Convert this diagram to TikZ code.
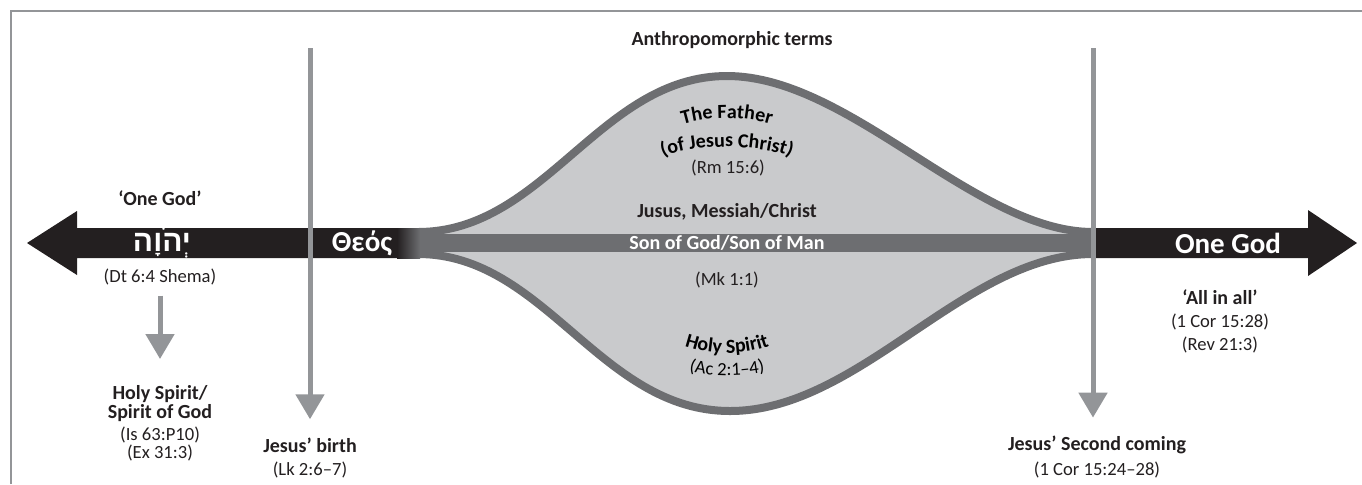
\documentclass[tikz,border=0pt]{standalone}
\usepackage{fontspec}
\setmainfont{Carlito}
\newfontfamily\hebfont[Script=Hebrew]{Liberation Sans}
\TeXXeTstate=1
\usetikzlibrary{arrows.meta,decorations.text}
\definecolor{barblack}{HTML}{231F20}
\definecolor{lensfill}{HTML}{C9CACC}
\definecolor{rimgray}{HTML}{6D6E71}
\definecolor{dropgray}{HTML}{939598}
\tikzset{
  term/.style={font=\bfseries\fontsize{10}{11}\selectfont, text=barblack, inner sep=1pt},
  verse/.style={font=\fontsize{9.3}{10}\selectfont, text=barblack, inner sep=1pt},
  onbar/.style={font=\bfseries\fontsize{14.5}{16}\selectfont, text=white, inner sep=1pt},
  drop/.style={draw=dropgray, line width=2.5pt, -{Triangle[width=14pt,length=12.5pt]}},
  bend text/.style={decorate, decoration={text along path, text align=center, text={#1}}}
}
\begin{document}
\begin{tikzpicture}[x=0.5pt, y=-0.5pt]
  \useasboundingbox (0,0) rectangle (1362,484);
  \draw[dropgray, line width=0.75pt] (11,484) -- (11,11) -- (1362,11);
  % lens
  \fill[lensfill] (418,232) .. controls (545,232) and (600,76) .. (727,76)
    .. controls (850,76) and (975,232) .. (1093,232) -- (1093,254)
    .. controls (965,254) and (860,411) .. (730,411)
    .. controls (600,411) and (545,254) .. (418,254) -- cycle;
  \draw[rimgray, line width=4pt] (418,232) .. controls (545,232) and (600,76) .. (727,76)
    .. controls (850,76) and (975,232) .. (1093,232);
  \draw[rimgray, line width=4pt] (418,254) .. controls (545,254) and (600,411) .. (730,411)
    .. controls (860,411) and (965,254) .. (1093,254);
  \fill[rimgray] (418,234) rectangle (1093,252);
  % black arrows
  \fill[barblack] (27,243) -- (77,211) -- (77,228) -- (398,228) -- (398,258) -- (77,258) -- (77,275) -- cycle;
  \shade[left color=barblack, right color=rimgray] (397,228) rectangle (420,258);
  \fill[barblack] (1093,228) -- (1308,228) -- (1308,210) -- (1357,243) -- (1308,276) -- (1308,258) -- (1093,258) -- cycle;
  % labels
  \node[term] (terms) at (732,40) {Anthropomorphic terms};
  \node[term] (onegod) at (160,198) {‘One God’};
  \node[onbar, font=\hebfont\bfseries\fontsize{15}{16}\selectfont] (yhwh) at (162,243) {\beginR יְהֹוָה\endR};
  \node[verse] (shema) at (160,277) {(Dt 6:4 Shema)};
  \node[term] (hs1) at (160,394) {Holy Spirit/};
  \node[term] (hs2) at (160,413) {Spirit of God};
  \node[verse] (is) at (160,435) {(Is 63:P10)};
  \node[verse] (ex) at (160,453) {(Ex 31:3)};
  \node[onbar] (theos) at (362,243) {Θεός};
  \node[term] (birth) at (310,445) {Jesus’ birth};
  \node[verse] (lk) at (310,470) {(Lk 2:6–7)};
  \node[term] (second) at (1097,445) {Jesus’ Second coming};
  \node[verse] (cor1) at (1097,470) {(1 Cor 15:24–28)};
  \node[onbar] (onegodR) at (1228,243) {One God};
  \node[term] (allinall) at (1220,297) {‘All in all’};
  \node[verse] (cor2) at (1220,322) {(1 Cor 15:28)};
  \node[verse] (rev) at (1220,345) {(Rev 21:3)};
  \node[verse] (rm) at (728,168) {(Rm 15:6)};
  \node[term] (messiah) at (727,212) {Jusus, Messiah/Christ};
  \node[term, text=white] (son) at (727,243) {Son of God/Son of Man};
  \node[verse] (mk) at (727,280) {(Mk 1:1)};
  % bent labels
  \path[bend text={|\bfseries\fontsize{10}{11}\selectfont|The Father}]
    (657,137) .. controls (690,112) and (764,112) .. (797,137);
  \path[bend text={|\bfseries\fontsize{10}{11}\selectfont|(of Jesus Christ)}]
    (647,165) .. controls (680,141) and (774,141) .. (807,165);
  \path[bend text={|\bfseries\fontsize{10}{11}\selectfont|Holy Spirit}]
    (667,338) .. controls (700,358) and (754,358) .. (787,338);
  \path[bend text={|\fontsize{9.3}{10}\selectfont|(Ac 2:1–4)}]
    (677,368) .. controls (705,378) and (749,378) .. (777,368);
  % drops
  \coordinate (birthtop) at (310,48);
  \coordinate (secondtop) at (1093,48);
  \draw[drop, shorten >=8pt] (birthtop) -- (birth.north);
  \draw[drop, shorten >=8pt] (secondtop) -- (secondtop |- second.north);
  \draw[drop, shorten <=4pt, shorten >=12pt] (shema) -- (hs1);
\end{tikzpicture}
\end{document}
